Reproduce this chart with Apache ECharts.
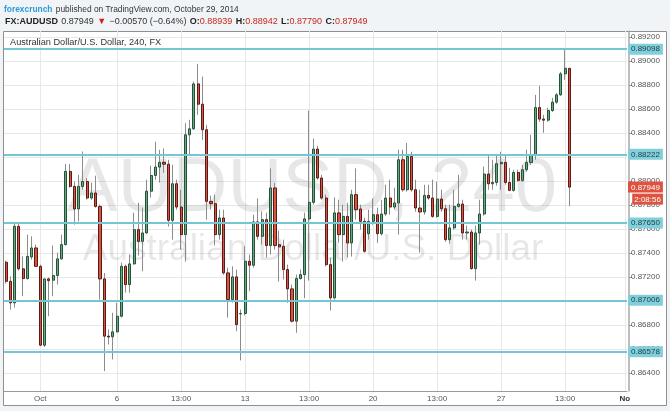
<!DOCTYPE html>
<html>
<head>
<meta charset="utf-8">
<script src="https://cdn.jsdelivr.net/npm/echarts@6/dist/echarts.min.js"></script>
<style>
html,body{margin:0;padding:0;background:#f1f4f7;}
#chart{width:670px;height:411px;}
</style>
</head>
<body>
<div id="chart"></div>
<script>
// ---- data (AUD/USD, 240 min bars) ----
const opens = [0.87323,0.87164,0.86985,0.87622,0.87268,0.87187,0.87367,0.87442,0.87289,0.86632,
0.87184,0.87173,0.87212,0.87351,0.8747,0.8808,0.87955,0.87767,0.87955,0.87996,
0.87858,0.879,0.87788,0.87184,0.86707,0.86702,0.86743,0.86873,0.87289,0.87137,
0.87309,0.87595,0.87497,0.87567,0.87915,0.88046,0.88116,0.88156,0.8814,0.87672,
0.87977,0.87783,0.87553,0.88385,0.88435,0.88809,0.8864,0.88427,0.8783,0.87811,
0.87553,0.87692,0.87234,0.87012,0.87201,0.86892,0.86896,0.87331,0.87298,0.87659,
0.87539,0.87678,0.87462,0.87942,0.8747,0.87456,0.87262,0.87101,0.86832,0.87187,
0.8722,0.87684,0.87822,0.88266,0.88025,0.87858,0.87303,0.87026,0.87734,0.87553,
0.87705,0.87484,0.87886,0.87767,0.87664,0.87561,0.87664,0.87719,0.87561,0.87725,
0.87858,0.87783,0.87817,0.88177,0.87927,0.88204,0.87927,0.87775,0.87742,0.8788,
0.87858,0.87705,0.8785,0.87769,0.87511,0.87609,0.87788,0.87808,0.87567,0.87575,
0.8727,0.87567,0.87725,0.88058,0.87977,0.87988,0.88144,0.88155,0.87988,0.87922,
0.88071,0.88005,0.88094,0.88155,0.88219,0.88612,0.88516,0.88507,0.88587,0.88657,
0.88718,0.88893,0.88939];
const closes = [0.87164,0.86985,0.87622,0.87268,0.87187,0.87372,0.87442,0.87289,0.86632,0.87184,
0.8717,0.87212,0.87351,0.8747,0.8808,0.87955,0.87767,0.87955,0.87996,0.87858,
0.879,0.87788,0.87184,0.86707,0.867,0.86743,0.86873,0.87289,0.87137,0.87309,
0.87595,0.87497,0.87567,0.87915,0.88046,0.88116,0.88156,0.8814,0.87672,0.87977,
0.87783,0.87553,0.88385,0.88435,0.88809,0.8864,0.88427,0.8783,0.87811,0.87553,
0.87692,0.87234,0.87012,0.87201,0.86804,0.86896,0.87331,0.87298,0.87659,0.87539,
0.87678,0.87462,0.87942,0.87462,0.87451,0.87262,0.87101,0.86832,0.87187,0.8722,
0.87684,0.87822,0.88266,0.88025,0.87858,0.87303,0.87026,0.87734,0.87553,0.87705,
0.87484,0.87886,0.87761,0.87664,0.87414,0.87664,0.87719,0.87561,0.87725,0.87858,
0.87783,0.87817,0.88177,0.87927,0.88204,0.87927,0.87775,0.87742,0.8788,0.87858,
0.87705,0.8785,0.87769,0.87511,0.87609,0.87788,0.87808,0.87567,0.87575,0.8727,
0.87567,0.87725,0.88058,0.87977,0.87988,0.88144,0.88155,0.87988,0.87922,0.88071,
0.88005,0.88094,0.88155,0.88219,0.88612,0.88516,0.88507,0.88587,0.88657,0.88718,
0.88893,0.88939,0.87949];
const lows = [0.87145,0.86929,0.86946,0.87253,0.8704,0.87179,0.87345,0.87287,0.86624,0.86617,
0.86873,0.8704,0.87137,0.87345,0.87462,0.87944,0.87636,0.87664,0.87927,0.87844,
0.87844,0.87778,0.87012,0.86416,0.86638,0.86513,0.86738,0.86862,0.8707,0.8707,
0.87303,0.87378,0.87248,0.87561,0.87861,0.88011,0.87986,0.88069,0.8762,0.87511,
0.87761,0.87428,0.87328,0.88219,0.88427,0.88551,0.88343,0.87678,0.87761,0.87462,
0.87511,0.8722,0.86862,0.86987,0.86748,0.86505,0.86879,0.87081,0.87278,0.87511,
0.8747,0.87362,0.87387,0.87428,0.87162,0.87179,0.86985,0.86821,0.86735,0.87179,
0.87023,0.8717,0.87803,0.88011,0.87844,0.87287,0.86921,0.87012,0.87486,0.87328,
0.87362,0.8737,0.87678,0.87595,0.87403,0.87511,0.87636,0.87484,0.87545,0.87711,
0.87719,0.87761,0.87553,0.87911,0.87911,0.87911,0.87744,0.87403,0.87719,0.87844,
0.87694,0.87694,0.87744,0.87495,0.87478,0.87595,0.87778,0.87511,0.87511,0.87262,
0.8717,0.8747,0.87711,0.87927,0.87927,0.87961,0.87927,0.87969,0.87919,0.87911,
0.87994,0.87994,0.88077,0.88135,0.88177,0.88493,0.88402,0.88493,0.88576,0.88643,
0.8871,0.88843,0.8779];
const highs = [0.87337,0.87206,0.87655,0.87655,0.87372,0.87553,0.87539,0.8747,0.87303,0.87187,
0.87196,0.87462,0.87403,0.87553,0.88141,0.88141,0.87996,0.88052,0.88246,0.88025,
0.87986,0.88044,0.87803,0.87234,0.86763,0.86902,0.86985,0.8732,0.87303,0.87387,
0.87736,0.87819,0.87778,0.88011,0.88127,0.88327,0.8826,0.88271,0.88177,0.88135,
0.88011,0.87927,0.88482,0.8851,0.88828,0.88976,0.8887,0.88468,0.87878,0.87886,
0.87761,0.87761,0.87278,0.87289,0.87262,0.86929,0.87456,0.87387,0.87719,0.87855,
0.87747,0.87736,0.88105,0.87983,0.87586,0.87511,0.87303,0.87137,0.8722,0.87262,
0.87736,0.88587,0.88354,0.88293,0.88052,0.87886,0.87362,0.87863,0.87844,0.87803,
0.87819,0.87927,0.88105,0.87803,0.87694,0.87761,0.87855,0.87778,0.87844,0.87969,
0.88011,0.87944,0.8826,0.8826,0.88318,0.88244,0.88011,0.87927,0.87969,0.87969,
0.88011,0.87994,0.87927,0.87803,0.87803,0.87927,0.88052,0.87844,0.87628,0.87595,
0.87628,0.87844,0.88121,0.8821,0.88177,0.88219,0.88244,0.8821,0.8811,0.88094,
0.88094,0.88135,0.8826,0.88385,0.88718,0.88793,0.88551,0.8861,0.88693,0.88734,
0.88909,0.89092,0.88942];

const categoryCount = 146; // 133 bars + empty space on the right
const categories = Array.from({length: categoryCount}, (_, i) => String(i));
const tickIndex = [8, 26, 41, 56, 71, 86, 101, 116, 131, 145];
const tickText  = ['Oct', '6', '13:00', '13', '13:00', '20', '13:00', '27', '13:00', 'No'];
const yTicks = [0.864,0.866,0.868,0.870,0.872,0.874,0.876,0.878,0.880,0.882,0.884,0.886,0.888,0.890,0.892];
const levels = [0.89098, 0.88222, 0.87650, 0.87006, 0.86578];
const lastPrice = 0.87949;
const countdown = '2:08:56';

// ---- build ----
const ohlc = opens.map((o, i) => [o, closes[i], lows[i], highs[i]]);
const bodies = opens.map((o, i) => [o, closes[i], Math.min(o, closes[i]), Math.max(o, closes[i])]);
const showTick = (idx) => tickIndex.indexOf(idx) >= 0;
const FONT = '"Liberation Sans", Arial, sans-serif';

const chart = echarts.init(document.getElementById('chart'), null, {renderer: 'canvas'});
chart.setOption({
  animation: false,
  backgroundColor: '#f1f4f7',
  textStyle: {fontFamily: FONT},
  grid: {left: 4, top: 31, right: 43, bottom: 20, containLabel: false},
  xAxis: {
    type: 'category',
    data: categories,
    boundaryGap: true,
    axisLine: {lineStyle: {color: '#9a9a9a', width: 1}},
    axisTick: {show: false, interval: showTick, alignWithLabel: true},
    axisLabel: {
      interval: showTick,
      color: '#555',
      fontSize: 8,
      margin: 4,
      formatter: (v, idx) => {
        const k = tickIndex.indexOf(idx);
        if (k < 0) return '';
        return k === tickIndex.length - 1 ? '{b|' + tickText[k] + '}' : tickText[k];
      },
      rich: {b: {fontSize: 8, fontWeight: 'bold', color: '#333'}}
    },
    splitLine: {show: true, interval: showTick, alignWithLabel: true, lineStyle: {color: '#e8e8e8', width: 1}}
  },
  yAxis: {
    type: 'value',
    position: 'right',
    min: 0.8625,
    max: 0.8925,
    scale: true,
    offset: 2,
    axisLine: {show: true, lineStyle: {color: '#a8a8a8', width: 1.5}},
    axisTick: {show: true, length: 3, customValues: yTicks, lineStyle: {color: '#999'}},
    axisLabel: {customValues: yTicks, color: '#555', fontSize: 8, margin: 2, formatter: v => v.toFixed(5)},
    splitLine: {show: true, lineStyle: {color: '#e8e8e8', width: 1}}
  },
  series: [
    {
      name: 'wicks',
      type: 'candlestick',
      data: ohlc,
      barWidth: 0.6,
      z: 3,
      itemStyle: {color: '#8c8c8c', color0: '#8c8c8c', borderColor: '#8c8c8c', borderColor0: '#8c8c8c', borderWidth: 1},
      markLine: {
        silent: true,
        precision: 5,
        symbol: ['none', 'none'],
        data: [{yAxis: lastPrice}],
        lineStyle: {color: 'rgba(0,0,0,0)', width: 0, opacity: 1},
        z: 6,
        label: {
          show: true,
          opacity: 1,
          position: 'end',
          distance: 1,
          padding: [12, 0, 0, 0],
          formatter: () => '{a|' + lastPrice.toFixed(5) + '}\n{b|' + countdown + '}',
          rich: {
            a: {backgroundColor: '#de5340', color: '#fff', fontSize: 8, padding: [2, 3, 1, 3], lineHeight: 12, align: 'right'},
            b: {backgroundColor: '#de5340', color: '#fff', fontSize: 8, padding: [2, 2, 1, 2], lineHeight: 12, align: 'right'}
          }
        }
      }
    },
    {
      name: 'bodies',
      type: 'candlestick',
      data: bodies,
      barWidth: 2.6,
      z: 4,
      itemStyle: {color: '#6ba583', color0: '#d75442', borderColor: '#225437', borderColor0: '#5b1a13', borderWidth: 1},
      markLine: {
        silent: true,
        precision: 5,
        symbol: ['none', 'none'],
        data: levels.map(v => ({yAxis: v})),
        lineStyle: {color: '#74c6d5', width: 2, type: 'solid'},
        label: {
          position: 'end',
          distance: 1,
          formatter: p => Number(p.value).toFixed(5),
          backgroundColor: '#82cfdc',
          color: '#1e3b42',
          fontSize: 8,
          padding: [2, 3, 1, 3]
        }
      }
    }
  ],
  graphic: [
    {type: 'rect', z: -10, shape: {x: 3.5, y: 31.5, width: 663, height: 374}, style: {fill: '#ffffff', stroke: '#8f8f8f', lineWidth: 1}},
    {type: 'text', z: 1, x: 312, y: 190, style: {text: 'AUDUSD, 240', font: '76px ' + FONT, fill: 'rgba(0,0,0,0.095)', textAlign: 'center', textVerticalAlign: 'middle'}},
    {type: 'text', z: 1, x: 313, y: 250, style: {text: 'Australian Dollar/U.S. Dollar', font: '37px ' + FONT, fill: 'rgba(0,0,0,0.095)', textAlign: 'center', textVerticalAlign: 'middle'}},
    {type: 'text', z: 5, x: 10, y: 42, style: {text: 'Australian Dollar/U.S. Dollar, 240, FX', font: '9.2px ' + FONT, fill: '#333', textVerticalAlign: 'middle'}},
    {type: 'text', z: 5, x: 4, y: 10, style: {
      text: '{a|forexcrunch} {b|published on TradingView.com, October 29, 2014}',
      textVerticalAlign: 'middle',
      rich: {a: {font: 'bold 8.4px ' + FONT, fill: '#2d9bd6'}, b: {font: '8.4px ' + FONT, fill: '#333'}}
    }},
    {type: 'text', z: 5, x: 5, y: 22, style: {
      text: '{k|FX:AUDUSD} {n|0.87949} {r|\u25BC} {n|\u22120.00570 (\u22120.64%)} {k|O:}{v|0.88939} {k|H:}{v|0.88942} {k|L:}{v|0.87790} {k|C:}{v|0.87949}',
      textVerticalAlign: 'middle',
      rich: {
        k: {font: 'bold 9px ' + FONT, fill: '#222'},
        n: {font: '9px ' + FONT, fill: '#333'},
        r: {font: '9px ' + FONT, fill: '#c8261c'},
        v: {font: '9px ' + FONT, fill: '#c8261c'}
      }
    }}
  ]
});
</script>
</body>
</html>
